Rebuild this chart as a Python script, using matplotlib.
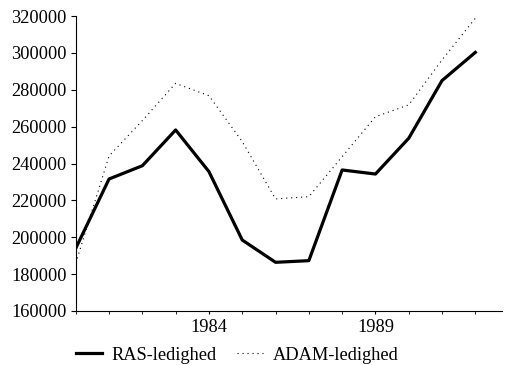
import numpy as np
import matplotlib
matplotlib.use("Agg")
import matplotlib.pyplot as plt
from matplotlib.ticker import MultipleLocator, FixedLocator

plt.rcParams['font.family'] = ['Liberation Serif', 'DejaVu Serif']

# Data
years = list(range(1980, 1993))
ras = [194000, 231600, 238800, 258200, 235600, 198500, 186400,
       187300, 236500, 234300, 253700, 285000, 300300]
adam = [185900, 244100, 263300, 283500, 276800, 251900, 220800,
        222000, 243700, 265400, 271800, 296200, 318800]
labels = ["RAS-ledighed", "ADAM-ledighed"]
xtick_years = [1984, 1989]

fig = plt.figure(figsize=(5.05, 3.65), dpi=100)
ax = fig.add_axes([0.150, 0.148, 0.844, 0.808])

ax.plot(years, ras, color="black", lw=2.3, label=labels[0])
ax.plot(years, adam, color="black", lw=0.8, ls=(0, (1, 3.5)), label=labels[1])

ax.set_xlim(1980, 1992.8)
ax.set_ylim(160000, 320000)
ax.xaxis.set_major_locator(FixedLocator(xtick_years))
ax.xaxis.set_minor_locator(MultipleLocator(1))
ax.yaxis.set_major_locator(MultipleLocator(20000))
ax.tick_params(axis="both", labelsize=13.2, direction="out", width=0.8, color="black")
ax.tick_params(axis="x", which="both", length=2, pad=4)
ax.tick_params(axis="y", length=3.6, pad=3)

for s in ["top", "right"]:
    ax.spines[s].set_visible(False)
for s in ["left", "bottom"]:
    ax.spines[s].set_linewidth(0.8)

fig.legend(loc="lower left", bbox_to_anchor=(0.117, -0.042), ncol=2, frameon=False,
           fontsize=13.2, handlelength=1.45, handletextpad=0.5, columnspacing=1.1)

fig.savefig("out.png", dpi=100)
